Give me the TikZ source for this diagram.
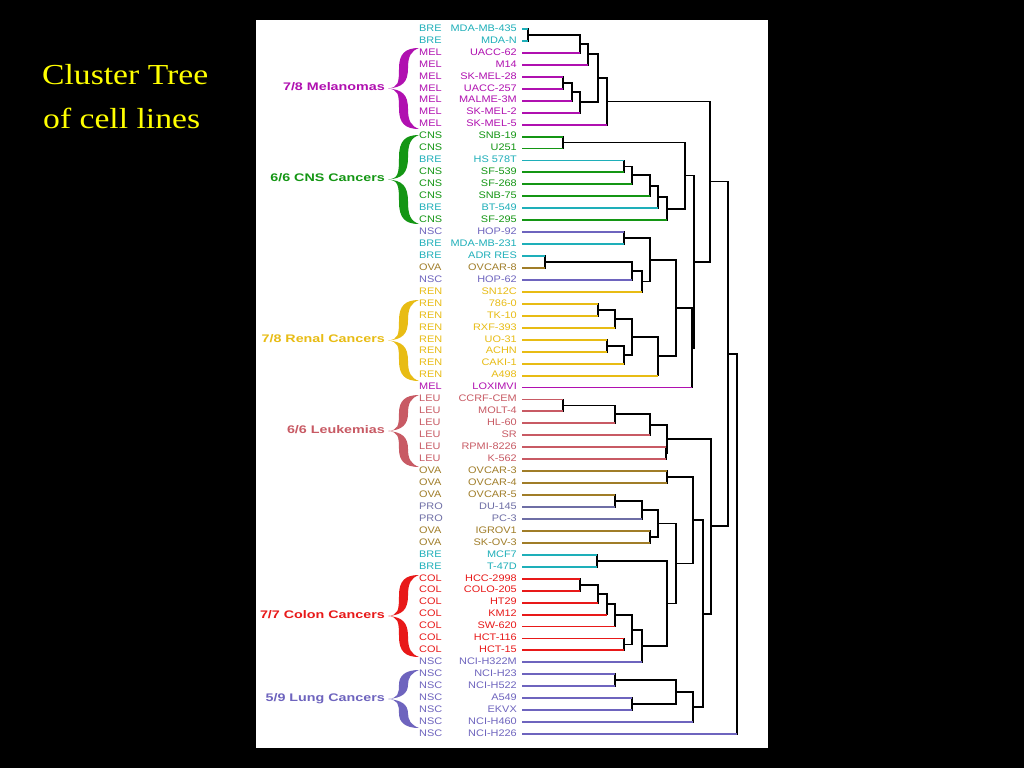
\documentclass[tikz,border=0pt]{standalone}
\usepackage{fontspec}
\setmainfont{Liberation Serif}
\newfontfamily\leaffont[FakeStretch=1.15]{Liberation Sans}
\newfontfamily\groupfont[FakeStretch=1.3]{Liberation Sans Bold}
\newfontfamily\titlefont[FakeStretch=1.16]{Liberation Serif}
\usetikzlibrary{calc}
\definecolor{BRE}{RGB}{30,175,185}
\definecolor{MEL}{RGB}{176,16,176}
\definecolor{CNS}{RGB}{20,150,20}
\definecolor{NSC}{RGB}{110,100,190}
\definecolor{OVA}{RGB}{160,125,40}
\definecolor{REN}{RGB}{232,188,20}
\definecolor{LEU}{RGB}{200,90,100}
\definecolor{PRO}{RGB}{110,110,165}
\definecolor{COL}{RGB}{232,25,25}
\definecolor{titleyellow}{RGB}{255,255,0}
\newcommand\merge[4]{%
  \path (#3) -- (#4) coordinate[pos=.5] (#1m);
  \coordinate (#1) at (#1m -| #2,0);
  \draw[link] (#3) -| (#1);
  \draw[link] (#4) -| (#1);}
\newcommand\grp[5]{%
  \pgfmathsetmacro\gm{(#3+#4)/2}%
  \pgfmathsetmacro\gh{(#4-#3)/2}%
  \foreach \s in {-1,1}
    \fill[#2] (388,\gm)
      .. controls (398,{\gm+\s}) and (399,{\gm+5*\s}) .. (399,{\gm+0.5*\gh*\s})
      .. controls (399,{\gm+(\gh-6)*\s}) and (405,{\gm+\gh*\s}) .. (419,{\gm+\gh*\s})
      .. controls (411,{\gm+(\gh-3)*\s}) and (408,{\gm+(\gh-8)*\s}) .. (408,{\gm+0.5*\gh*\s})
      .. controls (408,{\gm+6*\s}) and (402,{\gm+\s}) .. (388,\gm) -- cycle;
  \node[grplabel, text=#2] (#1) at (385,\gm) {#5};}
\def\leaves{BRE/MDA-MB-435/a1, BRE/MDA-N/a1, MEL/UACC-62/a2, MEL/M14/a3,
  MEL/SK-MEL-28/a4, MEL/UACC-257/a4, MEL/MALME-3M/a5, MEL/SK-MEL-2/a6, MEL/SK-MEL-5/a8,
  CNS/SNB-19/b1, CNS/U251/b1, BRE/HS 578T/b2, CNS/SF-539/b2, CNS/SF-268/b3,
  CNS/SNB-75/b4, BRE/BT-549/b5, CNS/SF-295/b6, NSC/HOP-92/c1, BRE/MDA-MB-231/c1,
  BRE/ADR RES/c2, OVA/OVCAR-8/c2, NSC/HOP-62/c3, REN/SN12C/c4, REN/786-0/r1,
  REN/TK-10/r1, REN/RXF-393/r2, REN/UO-31/r3, REN/ACHN/r3, REN/CAKI-1/r4,
  REN/A498/r6, MEL/LOXIMVI/c7, LEU/CCRF-CEM/d1, LEU/MOLT-4/d1, LEU/HL-60/d2,
  LEU/SR/d3, LEU/RPMI-8226/d4, LEU/K-562/d4, OVA/OVCAR-3/o1, OVA/OVCAR-4/o1,
  OVA/OVCAR-5/o2, PRO/DU-145/o2, PRO/PC-3/o3, OVA/IGROV1/o4, OVA/SK-OV-3/o4,
  BRE/MCF7/k1, BRE/T-47D/k1, COL/HCC-2998/k2, COL/COLO-205/k2, COL/HT29/k3,
  COL/KM12/k4, COL/SW-620/k5, COL/HCT-116/k6, COL/HCT-15/k6, NSC/NCI-H322M/k8,
  NSC/NCI-H23/n1, NSC/NCI-H522/n1, NSC/A549/n2, NSC/EKVX/n2, NSC/NCI-H460/n4,
  NSC/NCI-H226/root}

\begin{document}
\begin{tikzpicture}[x=1pt, y=-1pt,
  link/.style={line width=1.8pt, black},
  twig/.style={line width=1.9pt},
  cat/.style={font=\leaffont\fontsize{9.5}{10}\selectfont, inner sep=0pt, anchor=mid west},
  cell/.style={font=\leaffont\fontsize{9.5}{10}\selectfont, inner sep=0pt, anchor=mid east},
  grplabel/.style={font=\groupfont\fontsize{11}{12}\selectfont, inner sep=0pt, anchor=mid east},
  title/.style={font=\titlefont\fontsize{29}{34}\selectfont, text=titleyellow, inner sep=0pt, anchor=base west}]
\useasboundingbox (0,0) rectangle (1024,768);
\fill[black] (0,0) rectangle (1024,768);
\fill[white] (256,20) rectangle (768,748);
\node[title] (title1) at (42,84) {Cluster Tree};
\node[title] (title2) at (43,128) {of cell lines};
\foreach \ct/\nm/\mg [count=\i from 0] in \leaves {
  \node[cat, text=\ct] (cat\i) at (419,{29+11.95*\i}) {\ct};
  \node[cell, text=\ct] (cell\i) at (517,{29+11.95*\i}) {\nm};
  \coordinate (e\i) at (522,{29+11.95*\i});
}
\merge{a1}{528}{e0}{e1}
\merge{a2}{580}{a1}{e2}
\merge{a3}{588}{a2}{e3}
\merge{a4}{563}{e4}{e5}
\merge{a5}{572}{a4}{e6}
\merge{a6}{580}{a5}{e7}
\merge{a7}{598}{a3}{a6}
\merge{a8}{607}{a7}{e8}
\merge{b1}{563}{e9}{e10}
\merge{b2}{624}{e11}{e12}
\merge{b3}{632}{b2}{e13}
\merge{b4}{650}{b3}{e14}
\merge{b5}{658}{b4}{e15}
\merge{b6}{667}{b5}{e16}
\merge{b7}{685}{b1}{b6}
\merge{c1}{624}{e17}{e18}
\merge{c2}{545}{e19}{e20}
\merge{c3}{632}{c2}{e21}
\merge{c4}{642}{c3}{e22}
\merge{c5}{650}{c1}{c4}
\merge{r1}{598}{e23}{e24}
\merge{r2}{615}{r1}{e25}
\merge{r3}{607}{e26}{e27}
\merge{r4}{624}{r3}{e28}
\merge{r5}{632}{r2}{r4}
\merge{r6}{658}{r5}{e29}
\merge{c6}{676}{c5}{r6}
\merge{c7}{692}{c6}{e30}
\merge{c8}{694}{b7}{c7}
\merge{t1}{710}{a8}{c8}
\merge{d1}{563}{e31}{e32}
\merge{d2}{615}{d1}{e33}
\merge{d3}{650}{d2}{e34}
\merge{d4}{666}{e35}{e36}
\merge{d5}{667}{d3}{d4}
\merge{o1}{667}{e37}{e38}
\merge{o2}{615}{e39}{e40}
\merge{o3}{642}{o2}{e41}
\merge{o4}{650}{e42}{e43}
\merge{o5}{658}{o3}{o4}
\merge{k1}{597}{e44}{e45}
\merge{k2}{580}{e46}{e47}
\merge{k3}{598}{k2}{e48}
\merge{k4}{607}{k3}{e49}
\merge{k5}{615}{k4}{e50}
\merge{k6}{624}{e51}{e52}
\merge{k7}{632}{k5}{k6}
\merge{k8}{642}{k7}{e53}
\merge{k9}{667}{k1}{k8}
\merge{o6}{676}{o5}{k9}
\merge{o7}{693}{o1}{o6}
\merge{n1}{615}{e54}{e55}
\merge{n2}{632}{e56}{e57}
\merge{n3}{676}{n1}{n2}
\merge{n4}{693}{n3}{e58}
\merge{o8}{703}{o7}{n4}
\merge{t2}{711}{d5}{o8}
\merge{t3}{728}{t1}{t2}
\merge{root}{737}{t3}{e59}
\foreach \ct/\nm/\mg [count=\i from 0] in \leaves
  \draw[twig, \ct] (e\i) -- (e\i -| \mg);
\grp{melanomas}{MEL}{48}{129}{7/8 Melanomas}
\grp{cnscancers}{CNS}{135}{224}{6/6 CNS Cancers}
\grp{renalcancers}{REN}{300}{381}{7/8 Renal Cancers}
\grp{leukemias}{LEU}{395}{467}{6/6 Leukemias}
\grp{coloncancers}{COL}{575}{657}{7/7 Colon Cancers}
\grp{lungcancers}{NSC}{670}{728}{5/9 Lung Cancers}
\end{tikzpicture}
\end{document}
